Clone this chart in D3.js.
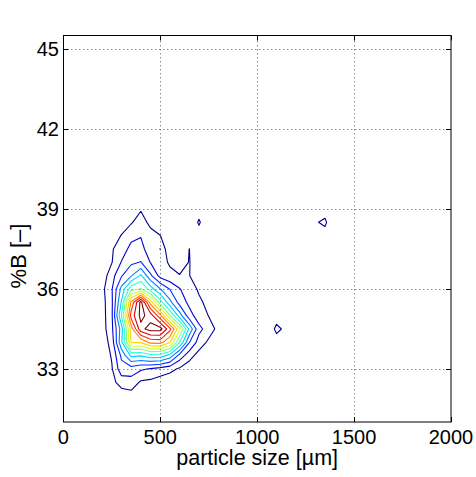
<!DOCTYPE html>
<html>
<head>
<meta charset="utf-8">
<script src="https://cdn.jsdelivr.net/npm/d3@7"></script>
<style>
  body { margin: 0; background: #fff; }
  text { font-family: "Liberation Sans", Arial, sans-serif; fill: #000; }
</style>
</head>
<body>
<svg id="chart" width="476" height="477"></svg>
<script>
// Axis settings
const xDomain = [0, 2000];
const yDomain = [31, 45.5];
const xTicks = [0, 500, 1000, 1500, 2000];
const yTicks = [33, 36, 39, 42, 45];

// Histogram bins: centres along particle size (µm) and %B
const binStepX = 50;
const binStepY = 0.5;
const gridX = [100, 150, 200, 250, 300, 350, 400, 450, 500, 550, 600, 650, 700, 750, 800, 850, 900];
const gridY = [31.5, 32, 32.5, 33, 33.5, 34, 34.5, 35, 35.5, 36, 36.5, 37, 37.5, 38, 38.5, 39, 39.5];

// Frequency in each bin, one row per %B value (bottom row first)
const density = [
  [0, 0,    0,    0,    0,    0,    0,     0,     0,    0,    0,    0,    0,    0,    0,   0,   0],
  [0, 0,    0,    0.2,  0.5,  0.6,  0.3,   0.2,   0.1,  0,    0,    0,    0,    0,    0,   0,   0],
  [0, 0,    0.1,  0.7,  1.4,  1.6,  0.85,  0.75,  0.5,  0.3,  0.1,  0,    0,    0,    0,   0,   0],
  [0, 0.05, 0.15, 0.9,  2.6,  2.5,  2.15,  1.9,   1.6,  1.3,  0.85, 0.4,  0.15, 0,    0,   0,   0],
  [0, 0.05, 0.25, 1.1,  3.2,  5.2,  5.05,  5.6,   5.5,  4.6,  2.6,  1.4,  0.6,  0.2,  0,   0,   0],
  [0, 0.1,  0.35, 1.4,  4.8,  9.05, 9.1,   10.3,  10.4, 9.05, 6.05, 3.05, 1.55, 0.8,  0.3, 0,   0],
  [0, 0.1,  0.5,  1.75, 4.5,  9.5,  12.7,  13.4,  13.4, 11.3, 8.2,  4.8,  2.3,  1.5,  0.7, 0.2, 0],
  [0, 0.1,  0.55, 1.8,  6.05, 11.4, 13.3,  12.55, 10.3, 7.05, 4.5,  2.4,  1.5,  0.97, 0.4, 0.1, 0],
  [0, 0.1,  0.6,  1.8,  5.1,  10.2, 13.35, 9.6,   6.5,  4.3,  2.6,  1.75, 1.2,  0.7,  0.3, 0,   0],
  [0, 0.1,  0.7,  1.9,  4.3,  6.6,  7.1,   5.5,   4.05, 2.95, 2.05, 1.5,  0.85, 0.4,  0.1, 0,   0],
  [0, 0.05, 0.4,  1.6,  2.9,  3.9,  5.15,  3.2,   1.64, 1.2,  1.05, 1.03, 0.4,  0.1,  0,   0,   0],
  [0, 0,    0.2,  0.95, 2.05, 2.8,  3.05,  1.95,  1.3,  0.9,  0.5,  1.05, 0.3,  0,    0,   0,   0],
  [0, 0,    0.1,  0.9,  1.5,  2.3,  2.3,   1.5,   2.02, 0.05, 0.3,  1.01, 0.2,  0,    0,   0,   0],
  [0, 0,    0,    0.4,  1.05, 1.7,  1.95,  1.4,   1.02, 0.4,  0.2,  0.4,  0.45, 0,    0,   0,   0],
  [0, 0,    0,    0.1,  0.4,  0.9,  1.5,   0.7,   0.3,  0.1,  0,    0,    1.16, 0,    0,   0,   0],
  [0, 0,    0,    0,    0.1,  0.5,  0.9,   0.4,   0.1,  0,    0,    0,    0.45, 0,    0,   0,   0],
  [0, 0,    0,    0,    0,    0,    0,     0,     0,    0,    0,    0,    0,    0,    0,   0,   0]
];

// Isolated bins away from the main cluster: [size, %B, frequency]
const outlierBins = [
  [1100, 34.5, 1.3], [1150, 34.5, 0.7], [1100, 34, 0.44], [1100, 35, 0.44],
  [1300, 38.5, 0.9], [1350, 38.5, 1.2], [1350, 38, 0.55], [1350, 39, 0.55]
];

// Contour levels and their jet colours
const levels = [1, 2, 3, 4, 5, 6, 7, 8, 9, 10, 11, 12, 13];
const levelColors = ["#00008f", "#0000d4", "#002bff", "#0080ff", "#00d4ff", "#2bffd4",
                     "#80ff80", "#d4ff2b", "#ffd400", "#ff8000", "#ff2b00", "#d40000", "#800000"];

// Full regular grid covering the axes
const nx = Math.round((xDomain[1] - xDomain[0]) / binStepX) + 1;
const ny = Math.round((yDomain[1] - yDomain[0]) / binStepY) + 1;
const values = new Array(nx * ny).fill(0);
const idx = (gx, gy) => Math.round((gx - xDomain[0]) / binStepX) + Math.round((gy - yDomain[0]) / binStepY) * nx;
density.forEach((row, j) => row.forEach((v, i) => { values[idx(gridX[i], gridY[j])] = v; }));
outlierBins.forEach(([bx, by, v]) => { values[idx(bx, by)] = v; });

const svg = d3.select("#chart");
const plotLeft = 63.3, plotRight = 451, plotTop = 35.7, plotBottom = 422.3;
const x = d3.scaleLinear().domain(xDomain).range([plotLeft, plotRight]);
const y = d3.scaleLinear().domain(yDomain).range([plotBottom, plotTop]);

// Dotted grid
const grid = svg.append("g").attr("stroke", "#555").attr("stroke-width", 1).attr("stroke-dasharray", "1,3");
grid.selectAll("line.gx").data(xTicks.filter(t => t > xDomain[0] && t < xDomain[1])).enter().append("line")
  .attr("x1", d => Math.round(x(d)) + 0.5).attr("x2", d => Math.round(x(d)) + 0.5)
  .attr("y1", plotBottom).attr("y2", plotTop);
grid.selectAll("line.gy").data(yTicks).enter().append("line")
  .attr("y1", d => Math.round(y(d)) + 0.5).attr("y2", d => Math.round(y(d)) + 0.5)
  .attr("x1", plotLeft).attr("x2", plotRight);

// Contour lines
const contours = d3.contours().size([nx, ny]).thresholds(levels)(values);
const toData = d3.geoTransform({
  point: function (gx, gy) {
    this.stream.point(x(xDomain[0] + (gx - 0.5) * binStepX), y(yDomain[0] + (gy - 0.5) * binStepY));
  }
});
const path = d3.geoPath(toData);
svg.append("g").selectAll("path").data(contours).enter().append("path")
  .attr("d", path)
  .attr("fill", "none")
  .attr("stroke", (d, i) => levelColors[i])
  .attr("stroke-width", 1.1)
  .attr("stroke-linejoin", "round");

// Frame and inward ticks
const axes = svg.append("g").attr("stroke", "#000").attr("stroke-width", 1).attr("fill", "none");
axes.append("rect").attr("x", 63.5).attr("y", 35.5).attr("width", 387.5).attr("height", 386.5);
const tickLen = 5;
xTicks.forEach(t => {
  const px = Math.round(x(t)) + 0.5;
  axes.append("line").attr("x1", px).attr("x2", px).attr("y1", 422).attr("y2", 422 - tickLen);
  axes.append("line").attr("x1", px).attr("x2", px).attr("y1", 35.5).attr("y2", 35.5 + tickLen);
});
yTicks.forEach(t => {
  const py = Math.round(y(t)) + 0.5;
  axes.append("line").attr("x1", 63.5).attr("x2", 63.5 + tickLen).attr("y1", py).attr("y2", py);
  axes.append("line").attr("x1", 451).attr("x2", 451 - tickLen).attr("y1", py).attr("y2", py);
});

// Tick labels
svg.append("g").selectAll("text").data(xTicks).enter().append("text")
  .attr("x", d => x(d)).attr("y", 444)
  .attr("text-anchor", "middle").attr("font-size", 20)
  .text(d => d);
svg.append("g").selectAll("text").data(yTicks).enter().append("text")
  .attr("x", 59).attr("y", d => y(d) + 7.2)
  .attr("text-anchor", "end").attr("font-size", 20)
  .text(d => d);

// Axis labels
svg.append("text").attr("x", (plotLeft + plotRight) / 2).attr("y", 465)
  .attr("text-anchor", "middle").attr("font-size", 21.5)
  .text("particle size [µm]");
svg.append("text")
  .attr("transform", "translate(26,256) rotate(-90)")
  .attr("text-anchor", "middle").attr("font-size", 22)
  .text("%B [–]");
</script>
</body>
</html>
